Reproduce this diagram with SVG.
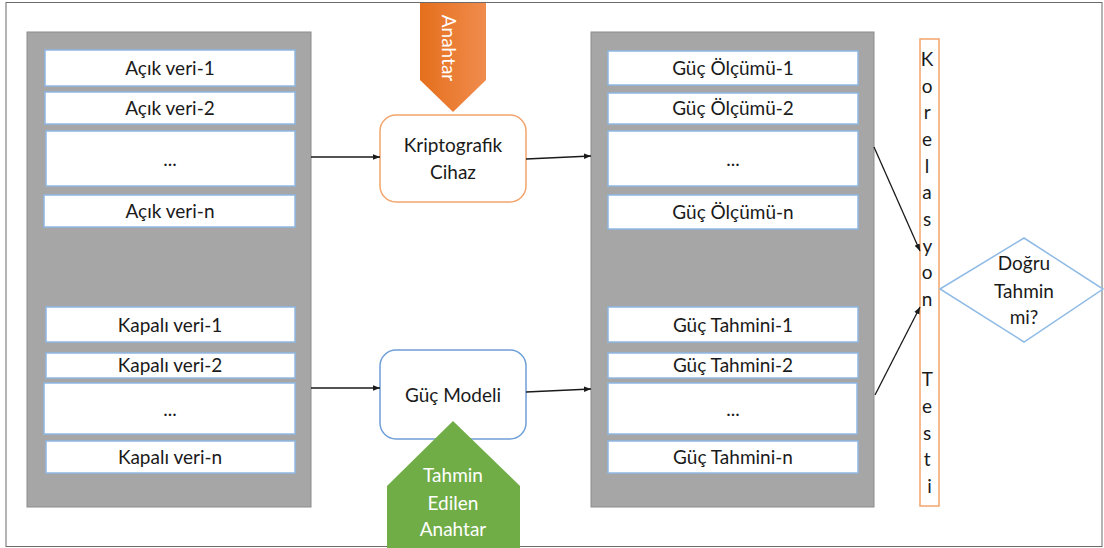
<svg xmlns="http://www.w3.org/2000/svg" width="1104" height="548" viewBox="0 0 1104 548">
<defs>
<style>
.t{font-family:Lato,"Liberation Sans",sans-serif;font-size:19px;fill:#1a1a1a;text-anchor:middle}
.w{fill:#ffffff}
.panel{fill:#a6a6a6;stroke:#8c8c8c;stroke-width:1}
.box{fill:#ffffff;stroke:#8fb8e3;stroke-width:1.5}
.conn{stroke:#1a1a1a;stroke-width:1.3;fill:none;marker-end:url(#ah)}
</style>
<marker id="ah" viewBox="0 0 10 10" refX="10" refY="5" markerWidth="7" markerHeight="7" markerUnits="userSpaceOnUse" orient="auto">
<path d="M0,1 L10,5 L0,9 z" fill="#1a1a1a"/>
</marker>
<linearGradient id="og" x1="0" y1="0" x2="1" y2="0">
<stop offset="0" stop-color="#e56f1c"/>
<stop offset="1" stop-color="#f08c4e"/>
</linearGradient>
</defs>
<rect x="6" y="2.5" width="1096" height="544" fill="#ffffff" stroke="#6b6b6b" stroke-width="1"/>

<g id="left-panel">
<rect class="panel" x="27" y="32" width="284" height="475"/>
<rect class="box" x="45" y="50" width="250" height="36"/><text class="t" x="170" y="75">Açık veri-1</text>
<rect class="box" x="45" y="92" width="250" height="32"/><text class="t" x="170" y="115">Açık veri-2</text>
<rect class="box" x="46" y="131" width="249" height="55"/><text class="t" x="170" y="166">...</text>
<rect class="box" x="44" y="195" width="251" height="32"/><text class="t" x="170" y="218">Açık veri-n</text>
<rect class="box" x="46" y="307" width="249" height="35"/><text class="t" x="170" y="332">Kapalı veri-1</text>
<rect class="box" x="46" y="353" width="249" height="25"/><text class="t" x="170" y="372">Kapalı veri-2</text>
<rect class="box" x="44" y="383" width="251" height="51"/><text class="t" x="170" y="416">...</text>
<rect class="box" x="46" y="441" width="249" height="32"/><text class="t" x="170" y="464">Kapalı veri-n</text>
</g>

<g id="right-panel">
<rect class="panel" x="591" y="32" width="283" height="475"/>
<rect class="box" x="608" y="51" width="250" height="34"/><text class="t" x="733" y="75">Güç Ölçümü-1</text>
<rect class="box" x="608" y="93" width="250" height="31"/><text class="t" x="733" y="115">Güç Ölçümü-2</text>
<rect class="box" x="608" y="131" width="250" height="55"/><text class="t" x="733" y="166">...</text>
<rect class="box" x="608" y="195" width="250" height="34"/><text class="t" x="733" y="219">Güç Ölçümü-n</text>
<rect class="box" x="608" y="307" width="250" height="35"/><text class="t" x="733" y="332">Güç Tahmini-1</text>
<rect class="box" x="608" y="353" width="250" height="25"/><text class="t" x="733" y="372">Güç Tahmini-2</text>
<rect class="box" x="608" y="383" width="249" height="51"/><text class="t" x="733" y="416">...</text>
<rect class="box" x="608" y="441" width="250" height="32"/><text class="t" x="733" y="464">Güç Tahmini-n</text>
</g>

<g id="anahtar">
<path d="M420,3 L486,3 L486,80 L453,112 L420,80 Z" fill="url(#og)"/>
<text class="t w" x="448" y="48" transform="rotate(90 448 48)" dy="6" style="fill:#ffffff">Anahtar</text>
</g>

<g id="kriptografik-cihaz">
<rect x="380" y="115" width="146" height="87" rx="16" fill="#ffffff" stroke="#f4a46c" stroke-width="1.5"/>
<text class="t" x="453" y="152">Kriptografik</text>
<text class="t" x="453" y="179">Cihaz</text>
</g>

<g id="guc-modeli">
<rect x="380" y="350" width="146" height="89" rx="16" fill="#ffffff" stroke="#6f9fd8" stroke-width="1.5"/>
<text class="t" x="453" y="402">Güç Modeli</text>
</g>

<g id="tahmin-edilen-anahtar">
<path d="M453,421 L520,486 L520,548 L387,548 L387,486 Z" fill="#70ad47"/>
<text class="t" x="453" y="482" style="fill:#ffffff">Tahmin</text>
<text class="t" x="453" y="510" style="fill:#ffffff">Edilen</text>
<text class="t" x="453" y="536" style="fill:#ffffff">Anahtar</text>
</g>

<g id="korelasyon-testi">
<rect x="920" y="39" width="19" height="467" fill="#ffffff" stroke="#f4a46c" stroke-width="1.5"/>
<text class="t" x="929.5">
<tspan x="929.5" y="66">K</tspan>
<tspan x="929.5" y="92.7">o</tspan>
<tspan x="929.5" y="119.3">r</tspan>
<tspan x="929.5" y="146">e</tspan>
<tspan x="929.5" y="172.7">l</tspan>
<tspan x="929.5" y="199.3">a</tspan>
<tspan x="929.5" y="226">s</tspan>
<tspan x="929.5" y="252.7">y</tspan>
<tspan x="929.5" y="279.3">o</tspan>
<tspan x="929.5" y="306">n</tspan>
<tspan x="929.5" y="386">T</tspan>
<tspan x="929.5" y="412.7">e</tspan>
<tspan x="929.5" y="439.5">s</tspan>
<tspan x="929.5" y="466">t</tspan>
<tspan x="929.5" y="493">i</tspan>
</text>
</g>

<g id="dogru-tahmin">
<path d="M940,289 L1024,238 L1103,289 L1024,342 Z" fill="#ffffff" stroke="#8fbbe6" stroke-width="1.5"/>
<text class="t" x="1024" y="270">Doğru</text>
<text class="t" x="1024" y="298">Tahmin</text>
<text class="t" x="1024" y="324">mi?</text>
</g>

<g id="connectors">
<line class="conn" x1="311" y1="157" x2="380" y2="157"/>
<line class="conn" x1="526" y1="159" x2="591" y2="156"/>
<line class="conn" x1="311" y1="388" x2="380" y2="388"/>
<line class="conn" x1="526" y1="392" x2="591" y2="389"/>
<line class="conn" x1="874" y1="147" x2="920" y2="251"/>
<line class="conn" x1="875" y1="395" x2="920" y2="307"/>
</g>
</svg>
